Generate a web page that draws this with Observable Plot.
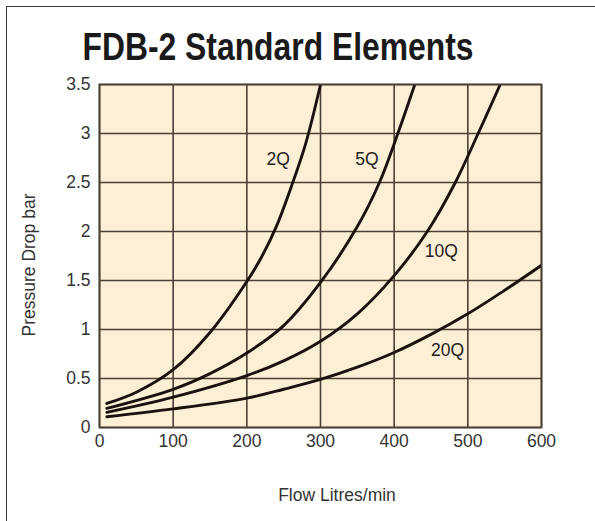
<!DOCTYPE html>
<html>
<head>
<meta charset="utf-8">
<script src="https://cdn.jsdelivr.net/npm/d3@7"></script>
<script src="https://cdn.jsdelivr.net/npm/@observablehq/plot@0.6"></script>
<style>
  html, body { margin: 0; padding: 0; background: #ffffff; }
  #wrap { position: relative; width: 595px; height: 521px; overflow: hidden; font-family: "Liberation Sans", Arial, Helvetica, sans-serif; color: #222; }
  #pageframe { position: absolute; left: 6px; top: 6px; width: 700px; height: 700px; border-top: 1.5px solid #3a3a3a; border-left: 1.5px solid #3a3a3a; }
  #title { position: absolute; left: 278px; top: 27px; font-size: 39px; line-height: 39px; font-weight: bold; color: #1a1a1a; white-space: nowrap; transform-origin: center; transform: translateX(-50%); }
  #ylab { position: absolute; left: 29px; top: 265px; font-size: 17.5px; line-height: 18px; white-space: nowrap; color: #333; transform: translate(-50%, -50%) rotate(-90deg); }
  #xlab { position: absolute; left: 337px; top: 495px; font-size: 17.5px; line-height: 18px; white-space: nowrap; color: #333; transform: translate(-50%, -50%); }
  #chart { position: absolute; left: 0; top: 0; }
</style>
</head>
<body>
<div id="wrap">
  <div id="chart"></div>
  <div id="pageframe"></div>
  <div id="title">FDB-2 Standard Elements</div>
  <div id="ylab">Pressure Drop bar</div>
  <div id="xlab">Flow Litres/min</div>
</div>
<script>
// Axis ticks
const xTicks = [0, 100, 200, 300, 400, 500, 600];
const yTicks = [0, 0.5, 1, 1.5, 2, 2.5, 3, 3.5];

// Series: flow (L/min) and pressure drop (bar)
const flow2Q = [10, 50, 100, 150, 200, 220, 240, 260, 280, 300];
const drop2Q = [0.245, 0.36, 0.59, 0.97, 1.49, 1.74, 2.05, 2.45, 2.9, 3.5];
const flow5Q = [10, 100, 150, 200, 250, 300, 350, 380, 405, 428];
const drop5Q = [0.195, 0.39, 0.55, 0.76, 1.04, 1.48, 2.05, 2.5, 3.0, 3.5];
const flow10Q = [10, 100, 200, 250, 300, 350, 400, 445, 483, 514, 544];
const drop10Q = [0.155, 0.31, 0.53, 0.68, 0.88, 1.16, 1.55, 2.0, 2.5, 3.0, 3.5];
const flow20Q = [10, 100, 200, 250, 300, 350, 400, 450, 500, 550, 600];
const drop20Q = [0.11, 0.19, 0.30, 0.39, 0.49, 0.615, 0.765, 0.95, 1.16, 1.40, 1.655];

// Curve labels
const labelText = ["2Q", "5Q", "10Q", "20Q"];
const labelFlow = [242.5, 363, 464, 472.5];
const labelDrop = [2.74, 2.74, 1.80, 0.79];

const seriesDefs = [
  ["2Q", flow2Q, drop2Q],
  ["5Q", flow5Q, drop5Q],
  ["10Q", flow10Q, drop10Q],
  ["20Q", flow20Q, drop20Q]
];
const rows = seriesDefs.flatMap(([s, fx, fy]) => fx.map((f, i) => ({series: s, flow: f, drop: fy[i]})));
const labels = labelText.map((t, i) => ({text: t, flow: labelFlow[i], drop: labelDrop[i]}));

const gridColor = "#4b4035";
const font = "'Liberation Sans', Arial, Helvetica, sans-serif";

const chart = Plot.plot({
  width: 595,
  height: 521,
  marginLeft: 99,
  marginRight: 54,
  marginTop: 84,
  marginBottom: 94,
  style: {fontFamily: font, fontSize: "17.5px", background: "transparent", color: "#333"},
  x: {domain: [0, 600], label: null},
  y: {domain: [0, 3.5], label: null},
  marks: [
    Plot.frame({fill: "#fdefd5", stroke: null}),
    Plot.ruleX(xTicks, {stroke: gridColor, strokeWidth: 1.6}),
    Plot.ruleY(yTicks, {stroke: gridColor, strokeWidth: 1.6}),
    Plot.line(rows, {x: "flow", y: "drop", z: "series", stroke: "#1a120e", strokeWidth: 2.9, curve: "catmull-rom", clip: true}),
    Plot.text(labels, {x: "flow", y: "drop", text: "text", fontSize: 17.5, fill: "#222"}),
    Plot.frame({stroke: gridColor, strokeWidth: 1.8}),
    Plot.axisX({ticks: xTicks, tickSize: 0, tickPadding: 7, tickFormat: d => String(d), fontSize: 17.5, label: null}),
    Plot.axisY({ticks: yTicks, tickSize: 0, tickPadding: 9, tickFormat: d => String(d), fontSize: 17.5, label: null})
  ]
});
document.getElementById("chart").appendChild(chart);

// Fit title width to reference
const t = document.getElementById("title");
const w = t.getBoundingClientRect().width;
t.style.transform = `translateX(-50%) scaleX(${391 / w})`;
</script>
</body>
</html>
